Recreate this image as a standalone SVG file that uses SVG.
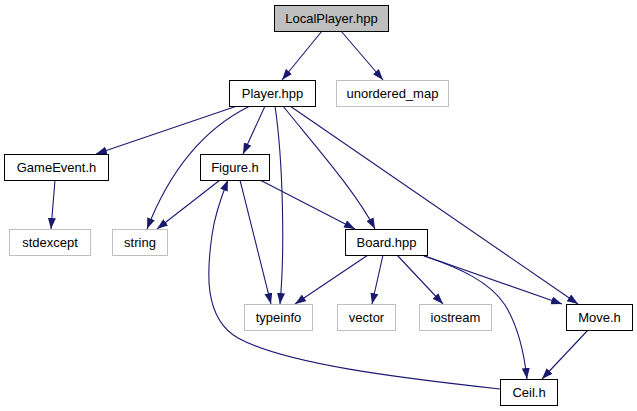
<svg xmlns="http://www.w3.org/2000/svg" width="637" height="411" viewBox="0 0 637 411">
<style>
.n rect{fill:#fff;stroke:#000;stroke-width:1}
.g rect{fill:#fff;stroke:#bfbfbf;stroke-width:1}
.root rect{fill:#bfbfbf;stroke:#000;stroke-width:1}
text{font-family:"Liberation Sans",Arial,sans-serif;font-size:13px;fill:#000;text-anchor:middle}
.e path{fill:none;stroke:#191970;stroke-width:1.1;marker-end:url(#ah)}
</style>
<defs>
<marker id="ah" markerUnits="userSpaceOnUse" viewBox="0 0 11 8" refX="11" refY="4" markerWidth="11" markerHeight="8" orient="auto">
<path d="M0,0 L11,4 L0,8 z" fill="#191970"/>
</marker>
</defs>
<rect width="637" height="411" fill="#fff"/>
<g id="edges" class="e">
<path d="M322,31 L282,80"/>
<path d="M341,31 L383,80"/>
<path d="M237,106 L96,154"/>
<path d="M265,106 L243,154"/>
<path d="M250,106 C205,128 170,170 147,229"/>
<path d="M275,106 C283,160 285,250 280,304"/>
<path d="M283,106 C310,140 355,190 375,229"/>
<path d="M290,106 L578,304"/>
<path d="M55,180 L51,229"/>
<path d="M220,180 L157,229"/>
<path d="M240,180 L271,304"/>
<path d="M260,180 L355,229"/>
<path d="M368,255 L295,304"/>
<path d="M383,255 L372,304"/>
<path d="M397,255 L443,304"/>
<path d="M422,255 L562,304"/>
<path d="M424,256 C460,268 490,282 505,305 C518,326 524,352 527,379"/>
<path d="M588,330 L542,379"/>
<path d="M500,389 C400,378 285,364 238,338 C203,318 207,270 212,235 C215,213 222,195 228,180"/>
</g>
<g id="LocalPlayer" class="root"><rect x="274.5" y="5.5" width="114" height="26"/><text x="331.5" y="23">LocalPlayer.hpp</text></g>
<g id="Player" class="n"><rect x="229.5" y="80.5" width="86" height="26"/><text x="272.5" y="98">Player.hpp</text></g>
<g id="unordered_map" class="g"><rect x="336.5" y="80.5" width="112" height="26"/><text x="392.5" y="98">unordered_map</text></g>
<g id="GameEvent" class="n"><rect x="4.5" y="154.5" width="104" height="26"/><text x="56.5" y="172">GameEvent.h</text></g>
<g id="Figure" class="n"><rect x="200.5" y="154.5" width="69" height="26"/><text x="235" y="172">Figure.h</text></g>
<g id="stdexcept" class="g"><rect x="9.5" y="229.5" width="81" height="26"/><text x="50" y="247">stdexcept</text></g>
<g id="string" class="g"><rect x="112.5" y="229.5" width="55" height="26"/><text x="140" y="247">string</text></g>
<g id="Board" class="n"><rect x="345.5" y="229.5" width="82" height="26"/><text x="386.5" y="247">Board.hpp</text></g>
<g id="typeinfo" class="g"><rect x="244.5" y="304.5" width="68" height="26"/><text x="278.5" y="322">typeinfo</text></g>
<g id="vector" class="g"><rect x="337.5" y="304.5" width="58" height="26"/><text x="366.5" y="322">vector</text></g>
<g id="iostream" class="g"><rect x="419.5" y="304.5" width="72" height="26"/><text x="455.5" y="322">iostream</text></g>
<g id="Move" class="n"><rect x="566.5" y="304.5" width="66" height="26"/><text x="599.5" y="322">Move.h</text></g>
<g id="Ceil" class="n"><rect x="500.5" y="379.5" width="57" height="26"/><text x="529" y="397">Ceil.h</text></g>
</svg>
